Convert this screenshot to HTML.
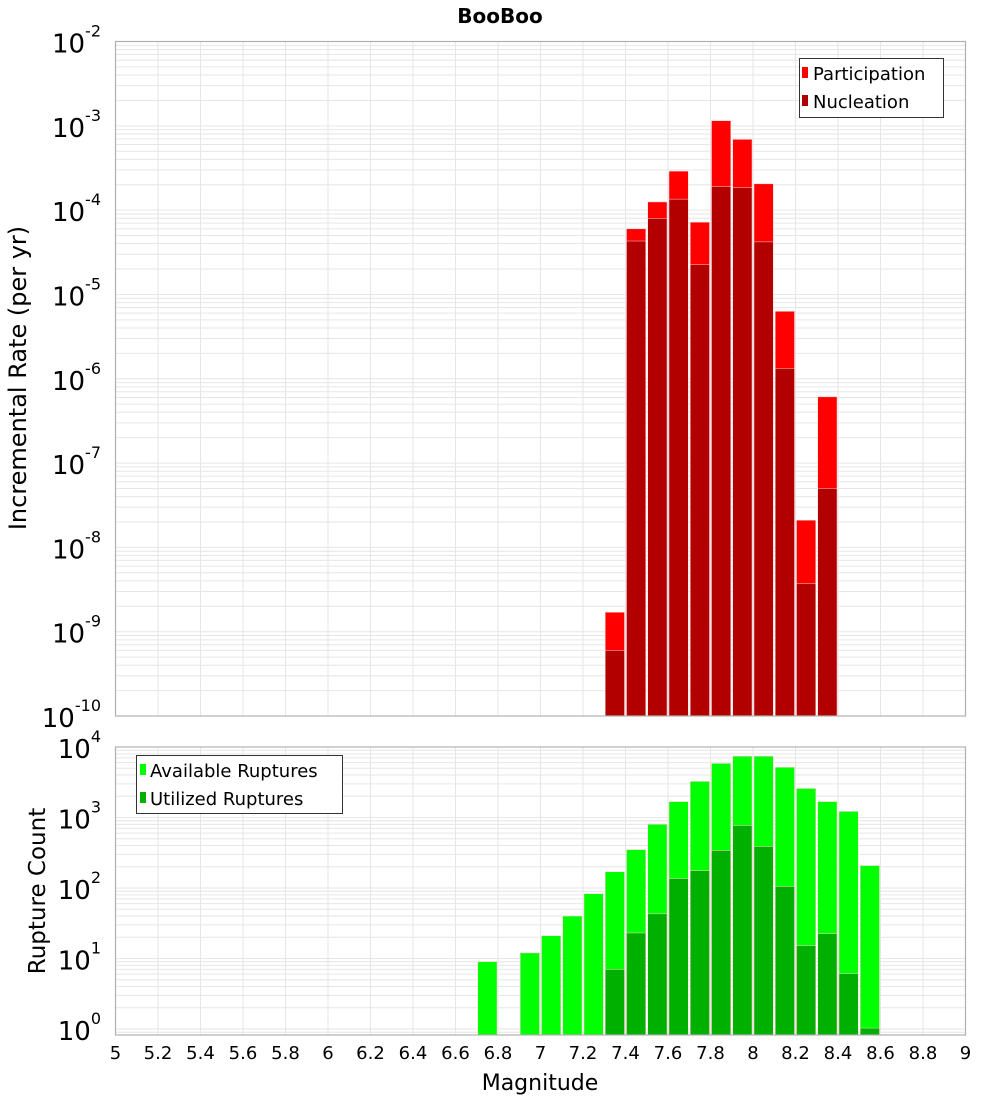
<!DOCTYPE html>
<html><head><meta charset="utf-8"><style>
body{margin:0;background:#fff;}
svg text{font-family:"DejaVu Sans","Liberation Sans",sans-serif;}
</style></head><body>
<svg id="chart" width="1000" height="1100" xmlns="http://www.w3.org/2000/svg">
<text x="500" y="23" text-anchor="middle" font-size="20" font-weight="bold">BooBoo</text>
<g id="top"></g>
<g id="bot"></g>
</svg>
<script>
const mags = [7.3,7.4,7.5,7.6,7.7,7.8,7.9,8.0,8.1,8.2,8.3];
const participation = [1.7e-9,6.0e-5,1.25e-4,2.9e-4,7.2e-5,1.15e-3,6.9e-4,2.05e-4,6.3e-6,2.1e-8,6.1e-7];
const nucleation = [6e-10,4.3e-5,8.0e-5,1.35e-4,2.25e-5,1.9e-4,1.85e-4,4.2e-5,1.33e-6,3.7e-9,5.0e-8];
const countMags = [6.7,6.9,7.0,7.1,7.2,7.3,7.4,7.5,7.6,7.7,7.8,7.9,8.0,8.1,8.2,8.3,8.4,8.5];
const available = [9.0,12,21,40,83,170,350,800,1680,3250,5850,7400,7400,5150,2580,1680,1220,208];
const utilized = [0,0,0,0,0,7.0,23,43,136,176,340,770,388,105,15.2,22.5,6.1,1.03];
const xTicks = [5,5.2,5.4,5.6,5.8,6,6.2,6.4,6.6,6.8,7,7.2,7.4,7.6,7.8,8,8.2,8.4,8.6,8.8,9];
const topExps = [-2,-3,-4,-5,-6,-7,-8,-9,-10];
const botExps = [0,1,2,3,4];

const NS="http://www.w3.org/2000/svg";
const L=115.5,R=965.5;
const X=m=>L+(m-5)*(R-L)/4;
function el(p,t,a){const e=document.createElementNS(NS,t);for(const k in a)e.setAttribute(k,a[k]);p.appendChild(e);return e;}

function panel(g,top,bottom,yOf,minE,maxE){
  for(let e=minE;e<=maxE;e++){for(let k=1;k<10;k++){const v=k*Math.pow(10,e);const y=yOf(v);if(y<top-0.5||y>bottom+0.5)continue;
    const ln=el(g,'line',{x1:L,x2:R,y1:y,y2:y,stroke:'#e6e6e6','stroke-width':1});
    
    }}
  xTicks.forEach(m=>{const ln=el(g,'line',{x1:X(m),x2:X(m),y1:top,y2:bottom,stroke:'#e6e6e6','stroke-width':1});
    
    });
}
function frame(g,top,bottom){const r=el(g,'rect',{x:L,y:top,width:R-L,height:bottom-top,fill:'none',stroke:'#b0b0b0','stroke-width':1.2});
  
  }
function ylab(g,e,y){const t=el(g,'text',{x:101,y:y+11,'text-anchor':'end','font-size':26});
  
  
  t.appendChild(document.createTextNode('10'));
  const s=el(t,'tspan',{dy:-16,'font-size':16});s.textContent=String(e);}
function bar(g,m,v,yOf,bottom,color,name){if(v<=0)return;const y=Math.max(yOf(v),0);
  const r=el(g,'rect',{x:X(m)+1,y:y,width:(R-L)/40-2,height:bottom-y,fill:color,stroke:'#ffd0d0','stroke-width':0.5});
  
  }

const gt=document.getElementById('top');
const T1=41.5,B1=716;
const yT=v=>T1+(-2-Math.log10(v))*(B1-T1)/8;
panel(gt,T1,B1,yT,-10,-3);
mags.forEach((m,i)=>{bar(gt,m,participation[i],yT,B1,'#ff0000','participation-bar');});
mags.forEach((m,i)=>{bar(gt,m,nucleation[i],yT,B1,'#b20000','nucleation-bar');});
frame(gt,T1,B1);
topExps.forEach(e=>ylab(gt,e,yT(Math.pow(10,e))));
{const t=el(gt,'text',{x:26,y:378,'text-anchor':'middle','font-size':24,transform:'rotate(-90 26 378)'});
 
 
 t.textContent='Incremental Rate (per yr)';}
{const lg=el(gt,'g',{});
 
 
 el(lg,'rect',{x:799.5,y:58.5,width:144,height:59,fill:'#fff',stroke:'#333'});
 el(lg,'rect',{x:802,y:67,width:6,height:11,fill:'#ff0000'});
 el(lg,'rect',{x:802,y:95,width:6,height:11,fill:'#b20000'});
 const a=el(lg,'text',{x:813,y:80,'font-size':18});a.textContent='Participation';
 
 
 const b=el(lg,'text',{x:813,y:108,'font-size':18});b.textContent='Nucleation';
 
 }

const gb=document.getElementById('bot');
const T2=747,B2=1035;
const yB=v=>1029-70.5*Math.log10(v);
panel(gb,T2,B2,yB,-1,3);
countMags.forEach((m,i)=>{bar(gb,m,available[i],yB,B2,'#00ff00','available-bar');});
countMags.forEach((m,i)=>{bar(gb,m,utilized[i],yB,B2,'#00b000','utilized-bar');});
frame(gb,T2,B2);
botExps.forEach(e=>ylab(gb,e,yB(Math.pow(10,e))));
{const t=el(gb,'text',{x:45,y:891,'text-anchor':'middle','font-size':23,transform:'rotate(-90 45 891)'});
 
 
 t.textContent='Rupture Count';}
{const lg=el(gb,'g',{});
 
 
 el(lg,'rect',{x:136.5,y:755.5,width:206,height:58,fill:'#fff',stroke:'#333'});
 el(lg,'rect',{x:140,y:764,width:6,height:11,fill:'#00ff00'});
 el(lg,'rect',{x:140,y:792,width:6,height:11,fill:'#00b000'});
 const a=el(lg,'text',{x:150,y:777,'font-size':18});a.textContent='Available Ruptures';
 
 
 const b=el(lg,'text',{x:150,y:805,'font-size':18});b.textContent='Utilized Ruptures';
 
 }
xTicks.forEach(m=>{const t=el(gb,'text',{x:X(m),y:1059,'text-anchor':'middle','font-size':18});
 
 
 t.textContent=String(Math.round(m*10)/10);});
{const t=el(gb,'text',{x:540,y:1090,'text-anchor':'middle','font-size':22});
 
 
 t.textContent='Magnitude';}
</script>
</body></html>
